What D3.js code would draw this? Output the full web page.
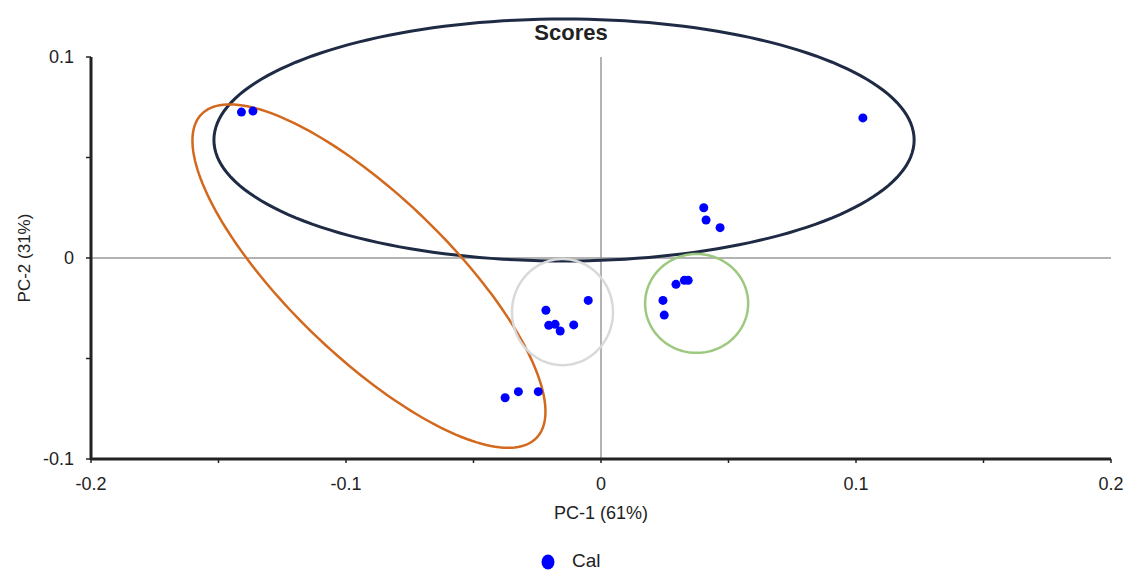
<!DOCTYPE html>
<html lang="en">
<head>
<meta charset="UTF-8">
<style>
  body { margin: 0; background: #fff; }
  text { font-family: "Liberation Sans", Arial, sans-serif; fill: #222; }
</style>
</head>
<body>
<div id="chart"></div>
<script src="https://cdn.jsdelivr.net/npm/d3@7"></script>
<script>
// score values
var pc1 = [-0.141, -0.1365, 0.1027, 0.0403, 0.0412, 0.0467,
           0.0294, 0.0327, 0.0342, 0.0243, 0.0248,
           -0.0050, -0.0216, -0.0205, -0.0180, -0.0160, -0.0107,
           -0.0376, -0.0324, -0.0246];
var pc2 = [0.0726, 0.0731, 0.0697, 0.0250, 0.0189, 0.0151,
           -0.0131, -0.0111, -0.0111, -0.0211, -0.0284,
           -0.0211, -0.0260, -0.0335, -0.0330, -0.0363, -0.0333,
           -0.0695, -0.0665, -0.0665];

var xTicks = [-0.2, -0.1, 0, 0.1, 0.2];
var yTicks = [-0.1, 0, 0.1];
var minorX = [-0.15, -0.05, 0.05, 0.15];
var minorY = [-0.05, 0.05];

// group ellipses: centre, major half-axis vector, minor half-axis vector (data units)
var ellipseNames = ["navy", "orange", "gray", "green"];
var ellipseCenters = [[-0.0145, 0.0587], [-0.0910, -0.0090], [-0.0151, -0.0269], [0.0375, -0.0226]];
var ellipseMajor = [[0.1373, 0], [0.0657, -0.0805], [0.0198, 0], [0.0202, 0]];
var ellipseMinor = [[0, 0.0602], [0.0218, 0.0286], [0, 0.0264], [0, 0.0246]];
var ellipseColors = ["#1f2b45", "#d2691e", "#d9d9d9", "#9dc87f"];

var W = 1128, H = 570;
var x = d3.scaleLinear().domain([-0.2, 0.2]).range([91, 1111]);
var y = d3.scaleLinear().domain([-0.1, 0.1]).range([459, 57]);

var svg = d3.select("#chart").append("svg")
    .attr("width", W).attr("height", H);

// zero lines
svg.append("line")
    .attr("x1", x(0)).attr("x2", x(0))
    .attr("y1", y(0.1)).attr("y2", y(-0.1))
    .attr("stroke", "#9a9a9a").attr("stroke-width", 1.5);
svg.append("line")
    .attr("x1", x(-0.2)).attr("x2", x(0.2))
    .attr("y1", y(0)).attr("y2", y(0))
    .attr("stroke", "#9a9a9a").attr("stroke-width", 1.5);

// ellipses
var line = d3.line().curve(d3.curveLinearClosed);
ellipseNames.forEach(function (name, k) {
    var pts = d3.range(0, 360, 2).map(function (deg) {
        var t = deg * Math.PI / 180;
        var c = ellipseCenters[k], a = ellipseMajor[k], b = ellipseMinor[k];
        var dx = c[0] + Math.cos(t) * a[0] + Math.sin(t) * b[0];
        var dy = c[1] + Math.cos(t) * a[1] + Math.sin(t) * b[1];
        return [x(dx), y(dy)];
    });
    svg.append("path")
        .attr("class", "ellipse " + name)
        .attr("d", line(pts))
        .attr("fill", "none")
        .attr("stroke", ellipseColors[k])
        .attr("stroke-width", name == "navy" ? 3 : 2.5);
});

// axes
var xAxis = svg.append("g").attr("transform", "translate(0," + y(-0.1) + ")");
xAxis.append("line").attr("x1", x(-0.2)).attr("x2", x(0.2))
    .attr("stroke", "#222").attr("stroke-width", 3);
xAxis.selectAll(".tk").data(xTicks.concat(minorX)).enter().append("line")
    .attr("x1", function (d) { return x(d); }).attr("x2", function (d) { return x(d); })
    .attr("y1", 0).attr("y2", 4).attr("stroke", "#222").attr("stroke-width", 1.5);
xAxis.selectAll(".lbl").data(xTicks).enter().append("text")
    .attr("x", function (d) { return x(d); })
    .attr("y", 31)
    .attr("text-anchor", "middle")
    .style("font-size", "18px")
    .text(function (d) { return d; });

var yAxis = svg.append("g").attr("transform", "translate(" + x(-0.2) + ",0)");
yAxis.append("line").attr("y1", y(0.1)).attr("y2", y(-0.1) + 1)
    .attr("stroke", "#222").attr("stroke-width", 3);
yAxis.selectAll(".tk").data(yTicks.concat(minorY)).enter().append("line")
    .attr("y1", function (d) { return y(d); }).attr("y2", function (d) { return y(d); })
    .attr("x1", -5).attr("x2", 0).attr("stroke", "#222").attr("stroke-width", 1.5);
yAxis.selectAll(".lbl").data(yTicks).enter().append("text")
    .attr("x", -17)
    .attr("y", function (d) { return y(d) + 6; })
    .attr("text-anchor", "end")
    .style("font-size", "18px")
    .text(function (d) { return d; });

// points
svg.selectAll(".pt").data(pc1).enter().append("circle")
    .attr("class", "pt")
    .attr("cx", function (d) { return x(d); })
    .attr("cy", function (d, i) { return y(pc2[i]); })
    .attr("r", 4.5)
    .attr("fill", "#0000ff");

// title and labels
svg.append("text").attr("x", 571).attr("y", 40)
    .attr("text-anchor", "middle")
    .style("font-size", "22px").style("font-weight", "bold")
    .text("Scores");
svg.append("text").attr("x", x(0)).attr("y", 519)
    .attr("text-anchor", "middle")
    .style("font-size", "18px")
    .text("PC-1 (61%)");
svg.append("text")
    .attr("transform", "translate(30," + y(0) + ") rotate(-90)")
    .attr("text-anchor", "middle")
    .style("font-size", "17px")
    .text("PC-2 (31%)");

// legend
svg.append("ellipse").attr("cx", 548).attr("cy", 562).attr("rx", 6.5).attr("ry", 7.5)
    .attr("fill", "#0000ff");
svg.append("text").attr("x", 572).attr("y", 567)
    .style("font-size", "19px")
    .text("Cal");
</script>
</body>
</html>
